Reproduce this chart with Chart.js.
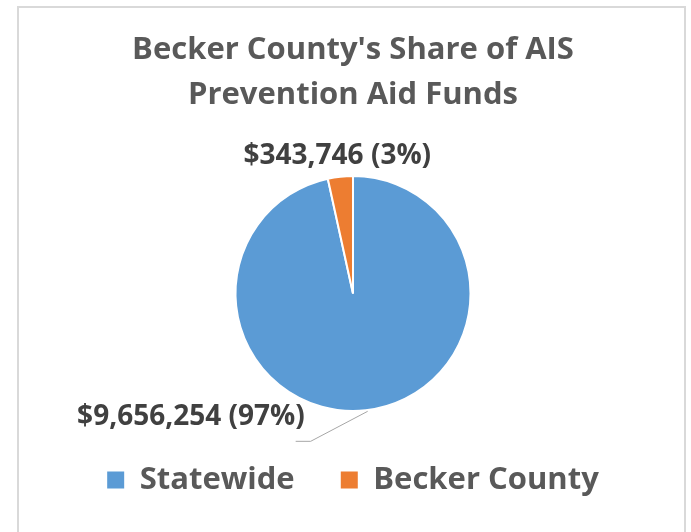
<!DOCTYPE html>
<html>
<head>
<meta charset="utf-8">
<script src="https://cdn.jsdelivr.net/npm/chart.js@4.4.0/dist/chart.umd.min.js"></script>
<style>
  html, body { margin: 0; padding: 0; background: #fff; }
  #wrap { position: relative; width: 691px; height: 532px; overflow: hidden; }
  #pie { position: absolute; left: 0; top: 0; }
  /* the light grey frame round the chart, open at the bottom */
  #frame {
    position: absolute; left: 17px; top: 6px; width: 669px; height: 600px;
    box-sizing: border-box; border: 2px solid #d9d9d9; border-bottom: none;
    pointer-events: none;
  }
</style>
</head>
<body>
<div id="wrap">
  <canvas id="pie" width="691" height="532"></canvas>
  <div id="frame"></div>
</div>
<script>
const titleLines = ["Becker County's Share of AIS", "Prevention Aid Funds"];
const categories = ["Statewide", "Becker County"];
const amounts = [9656254, 343746];
const sliceColors = ["#5B9BD5", "#ED7D31"];

const FONT = "'Open Sans', 'Liberation Sans', sans-serif";

/**
 * 各スライスに「$金額 (割合%)」のラベルを描く。
 * 下側のラベルには引き出し線を付ける。
 */
const sliceLabels = {
  id: "sliceLabels",
  afterDatasetsDraw(chart) {
    const ctx = chart.ctx;
    const meta = chart.getDatasetMeta(0);
    const total = amounts.reduce((a, b) => a + b, 0);
    ctx.save();
    ctx.font = "bold 28px " + FONT;
    ctx.fillStyle = "#404040";
    meta.data.forEach((arc, i) => {
      const { x, y, startAngle, endAngle, outerRadius } = arc.getProps(
        ["x", "y", "startAngle", "endAngle", "outerRadius"], true);
      const mid = (startAngle + endAngle) / 2;
      const px = x + Math.cos(mid) * outerRadius;
      const py = y + Math.sin(mid) * outerRadius;
      const pct = Math.round((amounts[i] / total) * 100);
      const text = "$" + amounts[i].toLocaleString("en-US") + " (" + pct + "%)";
      if (Math.sin(mid) < 0) {
        ctx.textAlign = "center";
        ctx.textBaseline = "alphabetic";
        ctx.fillText(text, px - 3, py - 13);
      } else {
        const ex = px - 55;
        const ey = py + 31;
        ctx.strokeStyle = "#a6a6a6";
        ctx.lineWidth = 1;
        ctx.beginPath();
        ctx.moveTo(px + 2, py + 1);
        ctx.lineTo(ex, ey);
        ctx.lineTo(ex - 15, ey);
        ctx.stroke();
        ctx.textAlign = "right";
        ctx.textBaseline = "alphabetic";
        ctx.fillText(text, ex - 6, ey - 16);
      }
    });
    ctx.restore();
  },
};

const ctx = document.getElementById("pie").getContext("2d");
new Chart(ctx, {
  type: "pie",
  data: {
    labels: categories,
    datasets: [
      {
        data: amounts,
        backgroundColor: sliceColors,
        borderColor: "#ffffff",
        borderWidth: 2,
        radius: 117.5,
      },
    ],
  },
  options: {
    responsive: false,
    animation: false,
    layout: { padding: { left: 15, right: 0, top: 0, bottom: 26.5 } },
    plugins: {
      title: {
        display: true,
        text: titleLines,
        color: "#595959",
        font: { family: FONT, size: 31, weight: "bold", lineHeight: 45 / 31 },
        padding: { top: 28, bottom: 14.5 },
      },
      legend: {
        position: "bottom",
        labels: {
          color: "#595959",
          font: { family: FONT, size: 31, weight: "bold" },
          boxWidth: 17,
          boxHeight: 17,
          padding: 10,
          generateLabels(chart) {
            return categories.map((name, i) => ({
              text: i < categories.length - 1 ? name + "\u2003\u2009" : name,
              fillStyle: sliceColors[i],
              strokeStyle: sliceColors[i],
              lineWidth: 0,
              fontColor: "#595959",
              index: i,
              hidden: false,
            }));
          },
        },
      },
      tooltip: { enabled: false },
    },
  },
  plugins: [sliceLabels],
});
</script>
</body>
</html>
